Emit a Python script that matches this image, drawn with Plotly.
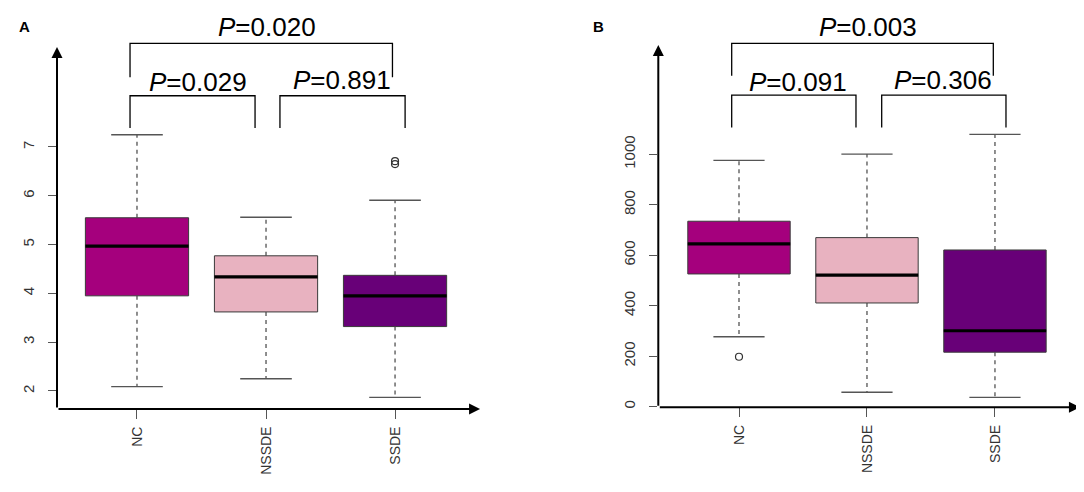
import plotly.graph_objects as go

# groups and colours
groups = ["NC", "NSSDE", "SSDE"]
box_colors = ["#A5007D", "#E8B2C0", "#680078"]

# panel A
a_lower = [2.09, 2.25, 1.87]
a_q1 = [3.95, 3.62, 3.32]
a_median = [4.97, 4.34, 3.95]
a_q3 = [5.55, 4.77, 4.37]
a_upper = [7.25, 5.56, 5.91]
a_outliers = [[], [], [6.65, 6.71]]
a_ticks = [2, 3, 4, 5, 6, 7]
a_pvalues = ["0.020", "0.029", "0.891"]

# panel B
b_lower = [277, 57, 37]
b_q1 = [526, 411, 216]
b_median = [645, 521, 301]
b_q3 = [735, 670, 621]
b_upper = [976, 1001, 1079]
b_outliers = [[198], [], []]
b_ticks = [0, 200, 400, 600, 800, 1000]
b_pvalues = ["0.003", "0.091", "0.306"]

# page body has an 8px margin, so the figure is drawn 8px in
OFF = 8
W, H = 1084 - OFF, 492 - OFF
pos = [1, 2, 3]

fig = go.Figure()


def xdom(a, b):
    return [(a - OFF) / W, (b - OFF) / W]


def ydom(top, bottom):
    return [1 - (bottom - OFF) / H, 1 - (top - OFF) / H]


def add_panel(n, lower, q1, med, q3, upper, outliers, ticks, pvals, cfg):
    xa = "x" if n == 1 else "x%d" % n
    ya = "y" if n == 1 else "y%d" % n
    for i, g in enumerate(groups):
        x = pos[i]
        fig.add_trace(go.Box(
            x=[x], q1=[q1[i]], median=[med[i]], q3=[q3[i]],
            lowerfence=[q1[i]], upperfence=[q3[i]],
            width=0.8, whiskerwidth=0, boxpoints=False,
            fillcolor=box_colors[i], line=dict(color="#3a3a3a", width=1),
            xaxis=xa, yaxis=ya, hoverinfo="skip", showlegend=False))
        # median
        fig.add_trace(go.Scatter(
            x=[x - 0.4, x + 0.4], y=[med[i], med[i]], mode="lines",
            line=dict(color="black", width=3.2),
            xaxis=xa, yaxis=ya, hoverinfo="skip", showlegend=False))
        # dashed whiskers
        fig.add_trace(go.Scatter(
            x=[x, x, None, x, x], y=[q3[i], upper[i], None, q1[i], lower[i]],
            mode="lines", line=dict(color="#444444", width=1.2, dash="4px,4px"),
            xaxis=xa, yaxis=ya, hoverinfo="skip", showlegend=False))
        # staples
        fig.add_trace(go.Scatter(
            x=[x - 0.2, x + 0.2, None, x - 0.2, x + 0.2],
            y=[upper[i], upper[i], None, lower[i], lower[i]],
            mode="lines", line=dict(color="#555555", width=1.4),
            xaxis=xa, yaxis=ya, hoverinfo="skip", showlegend=False))
        if outliers[i]:
            fig.add_trace(go.Scatter(
                x=[x] * len(outliers[i]), y=outliers[i], mode="markers",
                marker=dict(symbol="circle-open", size=7, color="#333333",
                            line=dict(width=1.2)),
                xaxis=xa, yaxis=ya, hoverinfo="skip", showlegend=False))

    # brackets: (left, right, bar y, leg bottom) per comparison
    for (xl, xr, ytop, ybot), pv, (tx, ty) in zip(cfg["brackets"], pvals, cfg["labels"]):
        fig.add_trace(go.Scatter(
            x=[xl, xl, xr, xr], y=[ybot, ytop, ytop, ybot], mode="lines",
            line=dict(color="black", width=1.3),
            xaxis=xa, yaxis=ya, hoverinfo="skip", showlegend=False))
        fig.add_annotation(x=tx, y=ty, xref=xa, yref=ya, showarrow=False,
                           text="<i>P</i>=" + pv,
                           font=dict(size=26, color="black",
                                     family="Liberation Sans, Arial"))

    xr0, xr1 = cfg["xrange"]
    yr0, yr1 = cfg["yrange"]
    # axis lines with arrow heads
    fig.add_annotation(x=xr0, y=cfg["ytip"], ax=xr0, ay=yr0, xref=xa, yref=ya,
                       axref=xa, ayref=ya, text="", showarrow=True,
                       arrowhead=2, arrowsize=1.1, arrowwidth=2, arrowcolor="black",
                       standoff=0, startstandoff=0)
    fig.add_annotation(x=cfg["xtip"], y=yr0, ax=xr0, ay=yr0, xref=xa, yref=ya,
                       axref=xa, ayref=ya, text="", showarrow=True,
                       arrowhead=2, arrowsize=1.1, arrowwidth=2, arrowcolor="black",
                       standoff=0, startstandoff=0)
    lx, ly = cfg["letter"]
    fig.add_annotation(x=(lx - OFF) / W, y=1 - (ly - OFF) / H, xref="paper", yref="paper",
                       text="<b>%s</b>" % cfg["name"], showarrow=False,
                       font=dict(size=15, color="black", family="Liberation Sans, Arial"))

    xkey = "xaxis" if n == 1 else "xaxis%d" % n
    ykey = "yaxis" if n == 1 else "yaxis%d" % n
    fig.update_layout({
        xkey: dict(domain=cfg["xdomain"], range=[xr0, xr1], anchor=ya,
                   tickvals=pos, ticktext=groups, tickangle=-90,
                   ticks="outside", ticklen=9, tickcolor="#555555", tickwidth=1.2,
                   showgrid=False, zeroline=False, showline=False,
                   tickfont=dict(size=14, color="#333333", family="Liberation Sans, Arial"),
                   ticklabelstandoff=2, automargin=False),
        ykey: dict(domain=cfg["ydomain"], range=[yr0, yr1], anchor=xa,
                   tickvals=ticks, tickangle=-90,
                   ticks="outside", ticklen=8, tickcolor="#555555", tickwidth=1.2,
                   showgrid=False, zeroline=False, showline=False,
                   tickfont=dict(size=15, color="#333333", family="Liberation Sans, Arial"),
                   ticklabelstandoff=8, automargin=False),
    })


cfg_a = dict(
    name="A", letter=(17, 16),
    xdomain=xdom(57, 482), ydomain=ydom(10, 409),
    xrange=(0.380, 3.674), yrange=(1.631, 9.807), xtip=3.659, ytip=9.05,
    brackets=[(0.946, 2.98, 9.125, 8.43), (0.946, 1.915, 8.05, 7.39),
              (2.108, 3.078, 8.05, 7.39)],
    labels=[(2.008, 9.46), (1.473, 8.33), (2.589, 8.37)],
)
cfg_b = dict(
    name="B", letter=(598, 16),
    xdomain=xdom(658.3, 1082), ydomain=ydom(10, 407.3),
    xrange=(0.3695, 3.680), yrange=(-2.4, 1572), xtip=3.664, ytip=1433,
    brackets=[(0.943, 2.987, 1440, 1311), (0.943, 1.914, 1235, 1106),
              (2.115, 3.086, 1235, 1106)],
    labels=[(2.008, 1505), (1.461, 1287), (2.594, 1294)],
)

add_panel(1, a_lower, a_q1, a_median, a_q3, a_upper, a_outliers, a_ticks, a_pvalues, cfg_a)
add_panel(2, b_lower, b_q1, b_median, b_q3, b_upper, b_outliers, b_ticks, b_pvalues, cfg_b)

fig.update_layout(template="none", width=W, height=H,
                  margin=dict(l=0, r=0, t=0, b=0),
                  paper_bgcolor="white", plot_bgcolor="white",
                  showlegend=False)

fig.write_html("out.html")
